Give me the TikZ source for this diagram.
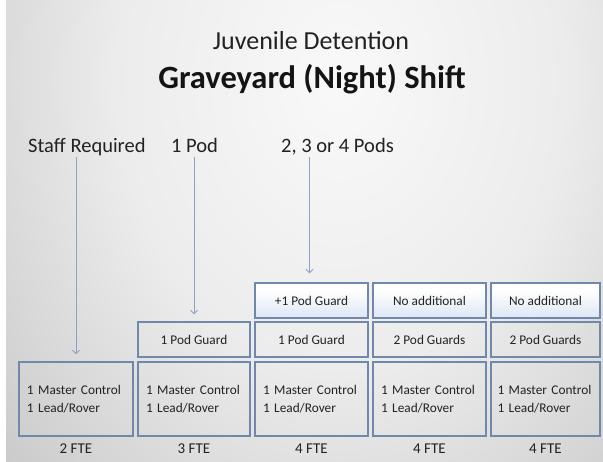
\documentclass[tikz,border=0pt]{standalone}
\usepackage{fontspec}
\setmainfont{Carlito}
\usetikzlibrary{arrows.meta}
\definecolor{bgA}{HTML}{F9F9F9}
\definecolor{bgB}{HTML}{ECECEC}
\definecolor{bgC}{HTML}{CFCFCF}
\definecolor{bgD}{HTML}{AFAFAF}
\definecolor{bgE}{HTML}{9C9C9C}
\definecolor{boxline}{HTML}{7088AC}
\definecolor{arrowc}{HTML}{8CA3C6}
\definecolor{txt}{HTML}{222222}
\definecolor{topT}{HTML}{DEDCD2}
\definecolor{topB}{HTML}{CCDBEF}
\pgfdeclareradialshading{bgshade}{\pgfpoint{0bp}{0bp}}{color(0bp)=(bgA); color(8bp)=(bgB); color(15bp)=(bgC); color(22bp)=(bgD); color(30bp)=(bgE); color(50bp)=(bgE)}
\pgfdeclareverticalshading{topshade}{100bp}{color(0bp)=(topB); color(30bp)=(topB!60!white); color(65bp)=(white); color(85bp)=(white); color(100bp)=(topT)}
\begin{document}
\begin{tikzpicture}[x=1pt,y=-1pt,
  boxbase/.style={draw=boxline, line width=1.4pt, inner ysep=0pt, text=txt,
    font=\fontsize{13.3}{18}\selectfont},
  botbox/.style={boxbase, minimum height=74pt, align=left, inner xsep=8pt},
  midbox/.style={boxbase, minimum height=35pt, inner xsep=2pt},
  topbox/.style={midbox, shading=topshade},
  fte/.style={text=txt, inner sep=0pt, font=\fontsize{15}{18}\selectfont},
  lbl/.style={anchor=base west, inner sep=0pt, text depth=5pt, text=txt,
    font=\fontsize{20.5}{24}\selectfont},
  arr/.style={draw=arrowc, line width=0.9pt, -{Straight Barb[length=3.5pt,width=7pt]}}]
\useasboundingbox (0,0) rectangle (603,461);
\fill[white] (0,0) rectangle (603,461);
\begin{scope}
  \clip (6,0) rectangle (603,461);
  \shade[shading=bgshade] (340,80) ellipse [x radius=700, y radius=900];
\end{scope}
% titles
\node[anchor=base, inner sep=0pt, text=txt, font=\fontsize{26}{30}\selectfont] (title1) at (311,49) {Juvenile Detention};
\node[anchor=base, inner sep=0pt, text=black!92, font=\bfseries\fontsize{32.5}{36}\selectfont] (title2) at (312,88) {Graveyard (Night) Shift};
% column labels
\node[lbl] (staff) at (28,152) {Staff Required};
\node[lbl] (pod1) at (171,152) {1 Pod};
\node[lbl] (pods) at (281,152) {2, 3 or 4 Pods};
% bottom row
\node[botbox, minimum width=114pt, text width=98pt] (b1) at (76,399) {1 Master Control\\1 Lead/Rover};
\node[botbox, minimum width=112pt, text width=96pt] (b2) at (194,399) {1 Master Control\\1 Lead/Rover};
\node[botbox, minimum width=113pt, text width=97pt] (b3) at (311.5,399) {1 Master Control\\1 Lead/Rover};
\node[botbox, minimum width=113pt, text width=97pt] (b4) at (429.5,399) {1 Master Control\\1 Lead/Rover};
\node[botbox, minimum width=109pt, text width=96pt, inner xsep=6.5pt] (b5) at (545.5,399) {1 Master Control\\1 Lead/Rover};
% middle row
\node[midbox, minimum width=112pt] (m2) at (194,339.5) {1 Pod Guard};
\node[midbox, minimum width=113pt] (m3) at (311.5,339.5) {1 Pod Guard};
\node[midbox, minimum width=113pt] (m4) at (429.5,339.5) {2 Pod Guards};
\node[midbox, minimum width=109pt] (m5) at (545.5,339.5) {2 Pod Guards};
% top row
\node[topbox, minimum width=113pt] (t3) at (311.5,300.5) {+1 Pod Guard};
\node[topbox, minimum width=113pt] (t4) at (429.5,300.5) {No additional};
\node[topbox, minimum width=109pt] (t5) at (545.5,300.5) {No additional};
% FTE
\node[fte] (f1) at ([yshift=-12pt]b1.south) {2 FTE};
\node[fte] (f2) at ([yshift=-12pt]b2.south) {3 FTE};
\node[fte] (f3) at ([yshift=-12pt]b3.south) {4 FTE};
\node[fte] (f4) at ([yshift=-12pt]b4.south) {4 FTE};
\node[fte] (f5) at ([yshift=-12pt]b5.south) {4 FTE};
% arrows
\draw[arr] (b1.north |- staff.south) -- ([yshift=7pt]b1.north);
\draw[arr] (m2.north |- pod1.south) -- ([yshift=7pt]m2.north);
\draw[arr] ([xshift=-2pt]t3.north |- pods.south) -- ([xshift=-2pt,yshift=9pt]t3.north);
\end{tikzpicture}
\end{document}
